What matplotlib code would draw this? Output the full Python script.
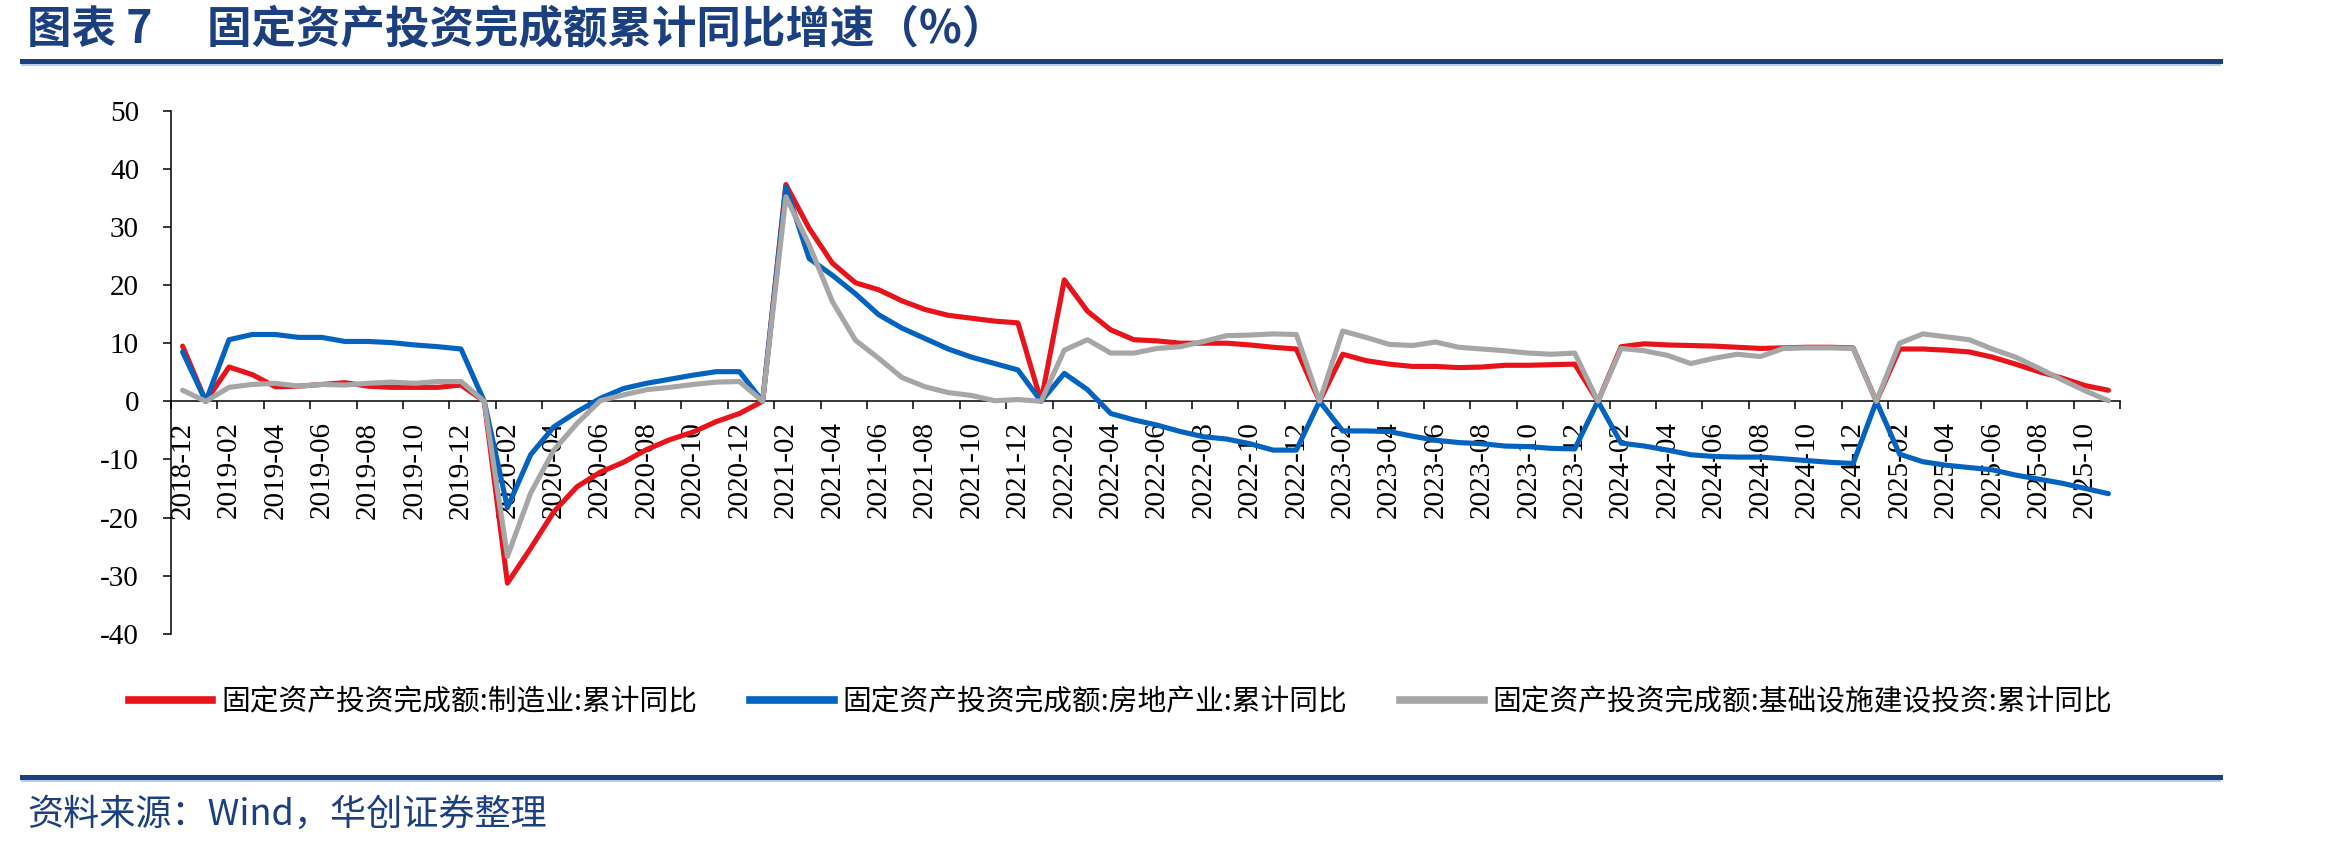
import numpy as np
import pandas as pd
import matplotlib
matplotlib.use("Agg")
import matplotlib.pyplot as plt
from matplotlib.lines import Line2D

plt.rcParams['font.family'] = ['Noto Sans CJK SC', 'DejaVu Sans']

# ---------------- data ----------------
months = [p.strftime('%Y-%m') for p in pd.period_range('2018-12', '2025-11', freq='M')]

manufacturing = [
    9.5, 0, 5.9, 4.6, 2.5, 2.6, 2.9, 3.2, 2.6, 2.4, 2.4, 2.4, 2.8,
    0, -31.3, -25.3, -19.0, -14.7, -12.2, -10.5, -8.3, -6.6, -5.3, -3.5, -2.1,
    0, 37.3, 29.8, 23.8, 20.4, 19.2, 17.3, 15.8, 14.8, 14.3, 13.8, 13.5,
    0, 20.9, 15.5, 12.3, 10.6, 10.4, 10.0, 10.0, 10.0, 9.7, 9.3, 9.0,
    0, 8.1, 7.0, 6.4, 6.0, 6.0, 5.8, 5.9, 6.2, 6.2, 6.3, 6.4,
    0, 9.4, 9.9, 9.7, 9.6, 9.5, 9.3, 9.1, 9.2, 9.3, 9.3, 9.2,
    0, 9.0, 9.0, 8.8, 8.5, 7.6, 6.4, 5.1, 4.0, 2.7, 1.9,
]
real_estate = [
    8.5, 0, 10.6, 11.5, 11.5, 11.0, 11.0, 10.3, 10.3, 10.1, 9.7, 9.4, 9.0,
    0, -18.3, -9.2, -4.4, -1.8, 0.5, 2.2, 3.1, 3.8, 4.5, 5.1, 5.1,
    0, 36.9, 24.6, 21.7, 18.5, 14.9, 12.6, 10.8, 9.0, 7.6, 6.5, 5.4,
    0, 4.8, 2.0, -2.1, -3.2, -4.1, -5.2, -6.1, -6.5, -7.3, -8.4, -8.4,
    0, -5.1, -5.1, -5.2, -6.0, -6.7, -7.1, -7.3, -7.7, -7.8, -8.1, -8.2,
    0, -7.2, -7.7, -8.4, -9.2, -9.5, -9.6, -9.6, -9.9, -10.2, -10.5, -10.7,
    0, -9.1, -10.4, -11.0, -11.4, -11.8, -12.7, -13.4, -14.1, -15.0, -15.9,
]
infrastructure = [
    1.9, 0, 2.4, 2.9, 3.1, 2.6, 2.9, 2.8, 3.1, 3.3, 3.1, 3.4, 3.4,
    0, -26.7, -15.8, -8.4, -3.8, 0.1, 1.1, 2.0, 2.4, 2.9, 3.3, 3.4,
    0, 35.2, 27.0, 17.2, 10.5, 7.4, 4.1, 2.5, 1.5, 1.0, 0.1, 0.3,
    0, 8.8, 10.6, 8.3, 8.3, 9.1, 9.4, 10.3, 11.3, 11.4, 11.6, 11.5,
    0, 12.1, 11.0, 9.8, 9.6, 10.2, 9.3, 9.0, 8.7, 8.3, 8.1, 8.3,
    0, 9.1, 8.7, 7.9, 6.5, 7.4, 8.1, 7.7, 9.1, 9.2, 9.2, 9.1,
    0, 10.0, 11.6, 11.1, 10.6, 9.0, 7.6, 5.7, 3.7, 1.8, 0.1,
]
series_names = [
    '固定资产投资完成额:制造业:累计同比',
    '固定资产投资完成额:房地产业:累计同比',
    '固定资产投资完成额:基础设施建设投资:累计同比',
]
yticks = list(range(-40, 51, 10))

title = '图表 7\u3000 固定资产投资完成额累计同比增速（%）'
source = '资料来源：Wind，华创证券整理'

# ---------------- style ----------------
RED = '#E8141C'
BLUE = '#0563C0'
GRAY = '#A6A6A6'
NAVY = '#1B3F7F'
LIGHT = '#A8C2E4'
SERIF = ['Liberation Serif', 'DejaVu Serif']

W, H = 2327, 847
fig = plt.figure(figsize=(W / 100, H / 100), dpi=100)
ax = fig.add_axes([171 / W, 1 - 633.7 / H, (2120 - 171) / W, (633.7 - 110.8) / H])

x = np.arange(len(months))
handles = []
for vals, col, name in zip([manufacturing, real_estate, infrastructure],
                           [RED, BLUE, GRAY], series_names):
    ln, = ax.plot(x, vals, color=col, lw=3.7, solid_joinstyle='round',
                  solid_capstyle='round', zorder=3, label=name)
    handles.append(ln)

ax.set_xlim(-0.5, len(months) - 0.5)
ax.set_ylim(-40, 50)

for s in ['top', 'right']:
    ax.spines[s].set_visible(False)
ax.spines['bottom'].set_position(('data', 0))
for s in ['left', 'bottom']:
    ax.spines[s].set_linewidth(1.1)
    ax.spines[s].set_zorder(2)

ax.set_yticks(yticks)
ax.set_yticklabels([str(v) for v in yticks], family=SERIF, fontsize=21)
ax.tick_params(axis='y', length=6, width=1.1, direction='out', pad=17)

ax.set_xticks(x[::2])
ax.set_xticklabels(months[::2], rotation=90, family=SERIF, fontsize=21)
ax.set_xticks(np.arange(-0.5, len(months), 2), minor=True)
ax.tick_params(axis='x', which='major', length=0, pad=14.5)
ax.tick_params(axis='x', which='minor', length=6, width=1.1, direction='out')

# legend
fig.legend(handles=[Line2D([], [], color=h.get_color(), lw=5.5) for h in handles],
           labels=series_names, loc='center left',
           bbox_to_anchor=(129 / W, 1 - 702 / H), ncol=3, frameon=False,
           fontsize=20.7, handlelength=2.9, handletextpad=0.3,
           columnspacing=1.85, borderpad=0, borderaxespad=0)

# title and rules
fig.text(27 / W, 1 - 30 / H, title, fontsize=32, fontweight='bold',
         color=NAVY, va='center', ha='left')
fig.add_artist(Line2D([22 / W, 2220 / W], [1 - 61 / H] * 2, color=NAVY, lw=3.6))
fig.add_artist(Line2D([22 / W, 2220 / W], [1 - 65 / H] * 2, color=LIGHT, lw=1.2))
fig.add_artist(Line2D([22 / W, 2220 / W], [1 - 777 / H] * 2, color=NAVY, lw=3.6))
fig.add_artist(Line2D([22 / W, 2220 / W], [1 - 781 / H] * 2, color=LIGHT, lw=1.2))
fig.text(27 / W, 1 - 815 / H, source, fontsize=26, style='italic',
         color=NAVY, va='center', ha='left')

fig.savefig('out.png', dpi=100)
